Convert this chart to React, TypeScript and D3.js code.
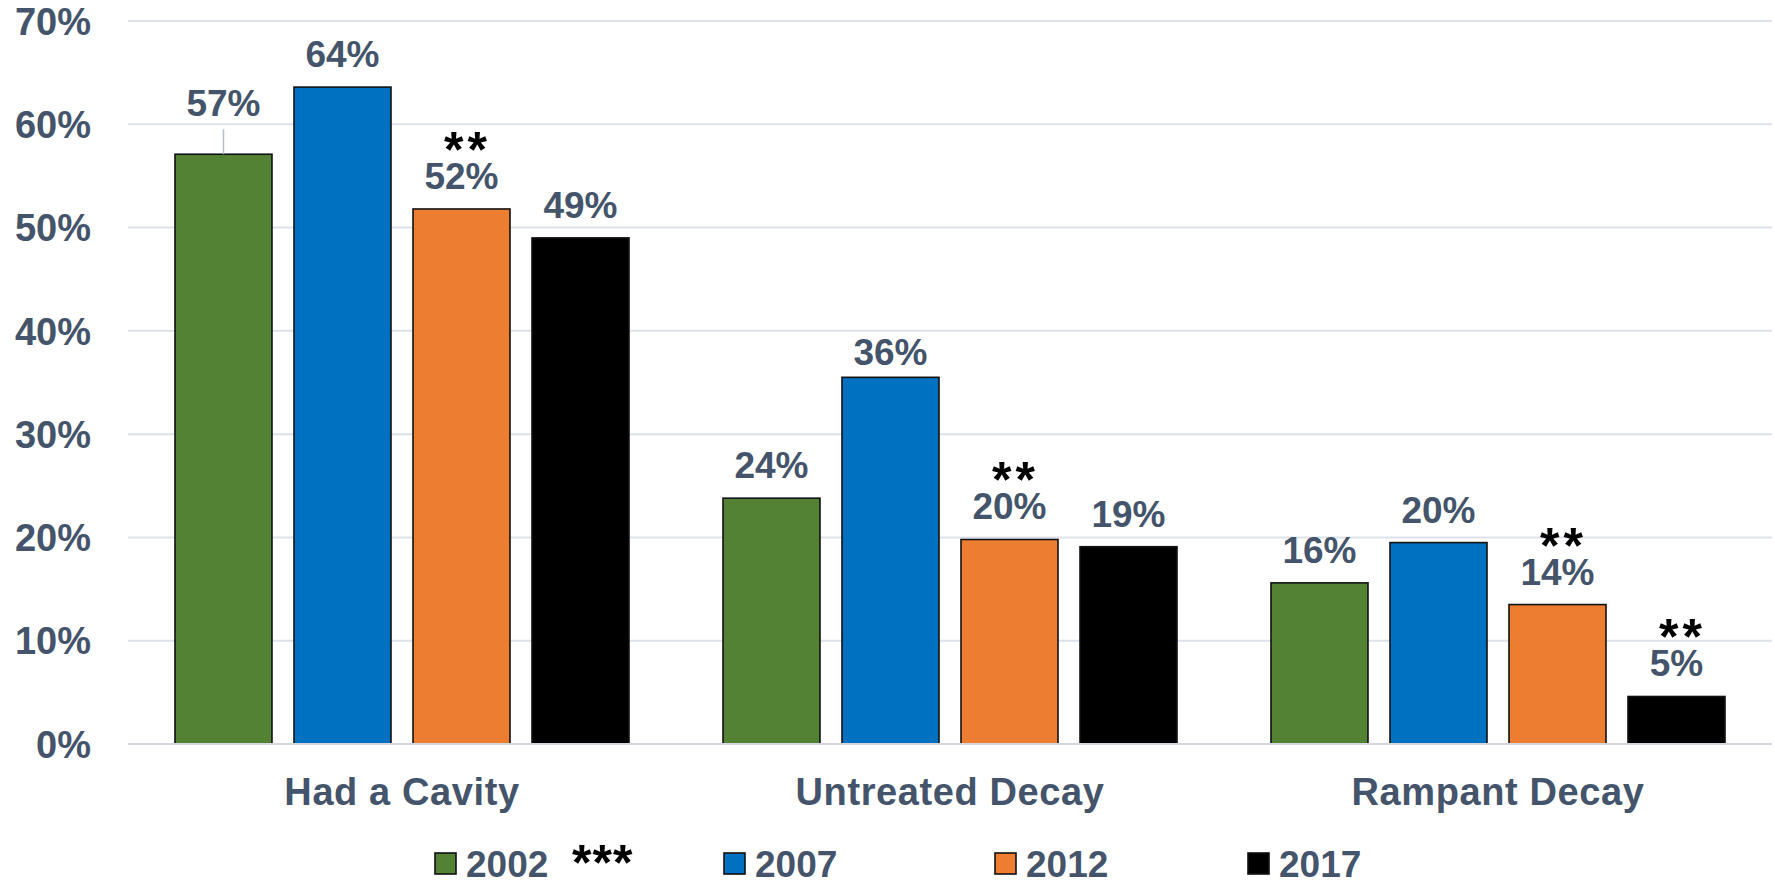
import React, { useEffect, useRef } from 'react';
import * as d3 from 'd3';

// chart data
const categories = ['Had a Cavity', 'Untreated Decay', 'Rampant Decay'];
const years = ['2002', '2007', '2012', '2017'];
const values2002 = [57.1, 23.8, 15.6];
const values2007 = [63.6, 35.5, 19.5];
const values2012 = [51.8, 19.8, 13.5];
const values2017 = [49.0, 19.1, 4.6];
const yTicks = [0, 10, 20, 30, 40, 50, 60, 70];
// significance markers shown above some labels
const markers2012 = ['**', '**', '**'];
const markers2017 = ['', '', '**'];
const legendNote = '***';

const colors = ['#548235', '#0070C0', '#ED7D31', '#000000'];
const textColor = '#44546A';
const font = '"Liberation Sans", Arial, sans-serif';

// manual label nudges (px, positive = higher) like the hand-placed labels in the original
const labelNudge: Record<string, number> = { '0-0': 18, '1-1': -8 };

const W = 1775;
const H = 881;

const App: React.FC = () => {
  const svgRef = useRef<SVGSVGElement>(null);

  useEffect(() => {
    const svg = d3.select(svgRef.current);
    svg.selectAll('*').remove();

    const series = [values2002, values2007, values2012, values2017];
    const markers = [[], [], markers2012, markers2017] as string[][];

    const margin = { left: 128, right: 3, top: 21, bottom: 137 };
    const plotBottom = H - margin.bottom;

    const x0 = d3.scaleBand<string>()
      .domain(categories)
      .range([margin.left, W - margin.right]);

    const x1 = d3.scaleBand<string>()
      .domain(years)
      .range([47, x0.bandwidth() - 47])
      .paddingInner(0.185);

    const y = d3.scaleLinear().domain([0, 70]).range([plotBottom, margin.top]);

    const g = svg.append('g');

    // gridlines
    g.selectAll('line.grid')
      .data(yTicks.slice(1))
      .enter()
      .append('line')
      .attr('x1', margin.left)
      .attr('x2', W - margin.right)
      .attr('y1', d => y(d))
      .attr('y2', d => y(d))
      .attr('stroke', '#DDE2EA')
      .attr('stroke-width', 2);

    // y tick labels
    g.selectAll('text.ytick')
      .data(yTicks)
      .enter()
      .append('text')
      .attr('x', 91)
      .attr('y', d => y(d))
      .attr('dy', '0.36em')
      .attr('text-anchor', 'end')
      .style('font-family', font)
      .style('font-weight', 'bold')
      .style('font-size', '38px')
      .style('fill', textColor)
      .text(d => `${d}%`);

    // bars
    categories.forEach((cat, ci) => {
      years.forEach((yr, si) => {
        const v = series[si][ci];
        const bx = x0(cat)! + x1(yr)!;
        const cx = bx + x1.bandwidth() / 2;
        g.append('rect')
          .attr('x', bx)
          .attr('y', y(v))
          .attr('width', x1.bandwidth())
          .attr('height', y(0) - y(v))
          .attr('fill', colors[si])
          .attr('stroke', '#111')
          .attr('stroke-width', 1.6);

        const nudge = labelNudge[`${ci}-${si}`] || 0;
        const ly = y(v) - 20 - nudge;
        g.append('text')
          .attr('x', cx)
          .attr('y', ly)
          .attr('text-anchor', 'middle')
          .style('font-family', font)
          .style('font-weight', 'bold')
          .style('font-size', '37px')
          .style('fill', textColor)
          .text(`${Math.round(v)}%`);

        if (nudge > 10) {
          // leader line to a lifted label
          g.append('line')
            .attr('x1', cx)
            .attr('x2', cx)
            .attr('y1', ly + 13)
            .attr('y2', y(v))
            .attr('stroke', '#B4BFCD')
            .attr('stroke-width', 1.5);
        }

        const m = markers[si][ci];
        if (m) {
          g.append('text')
            .attr('x', cx + 6)
            .attr('y', ly - 22)
            .attr('text-anchor', 'middle')
            .style('font-family', font)
            .style('font-weight', 'bold')
            .style('font-size', '50px')
            .style('letter-spacing', '4px')
            .style('fill', '#000')
            .text(m);
        }
      });
    });

    // x axis line
    g.append('line')
      .attr('x1', margin.left)
      .attr('x2', W - margin.right)
      .attr('y1', y(0))
      .attr('y2', y(0))
      .attr('stroke', '#D3D7DD')
      .attr('stroke-width', 2);

    // category labels
    g.selectAll('text.cat')
      .data(categories)
      .enter()
      .append('text')
      .attr('x', d => x0(d)! + x0.bandwidth() / 2)
      .attr('y', 805)
      .attr('text-anchor', 'middle')
      .style('font-family', font)
      .style('font-weight', 'bold')
      .style('font-size', '38px')
      .style('letter-spacing', '0.6px')
      .style('fill', textColor)
      .text(d => d);

    // legend
    const legendX = d3.scaleLinear().domain([0, 3]).range([435, 1248]);
    years.forEach((yr, i) => {
      const lx = legendX(i) + (i === 1 || i === 2 ? 18 : 0);
      g.append('rect')
        .attr('x', lx)
        .attr('y', 853)
        .attr('width', 21)
        .attr('height', 21)
        .attr('fill', colors[i])
        .attr('stroke', '#111')
        .attr('stroke-width', 1.6);
      g.append('text')
        .attr('x', lx + 31)
        .attr('y', 877)
        .style('font-family', font)
        .style('font-weight', 'bold')
        .style('font-size', '37px')
        .style('fill', textColor)
        .text(yr);
    });
    g.append('text')
      .attr('x', 572)
      .attr('y', 880)
      .style('font-family', font)
      .style('font-weight', 'bold')
      .style('font-size', '50px')
      .style('letter-spacing', '1px')
      .style('fill', '#000')
      .text(legendNote);
  }, []);

  return (
    <svg
      ref={svgRef}
      width={W}
      height={H}
      style={{ position: 'absolute', left: 0, top: 0, background: '#fff', display: 'block' }}
    />
  );
};

export default App;
